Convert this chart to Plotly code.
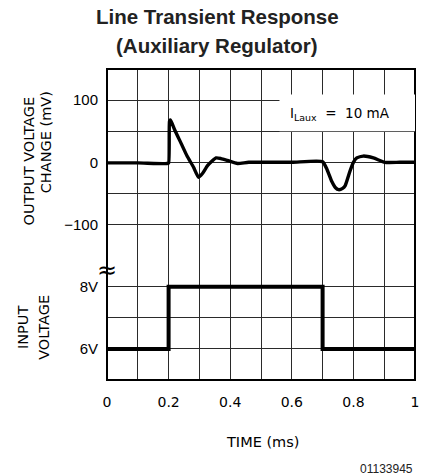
import plotly.graph_objects as go

# output voltage change (mV) vs time (ms)
t_out = [0, 0.1, 0.195, 0.2, 0.203, 0.206, 0.22, 0.241, 0.26, 0.281, 0.297, 0.31,
         0.327, 0.354, 0.37, 0.391, 0.424, 0.46, 0.6, 0.7, 0.714, 0.73, 0.742,
         0.752, 0.765, 0.773, 0.789, 0.8, 0.811, 0.832, 0.865, 0.902, 0.95, 1.0]
v_out = [-1, -1, -2, -1, 66, 68, 52, 30, 10, -8, -24, -18,
         -5, 7, 6, 3, -2, 0, 0, 1, -11, -31, -41,
         -44, -42, -38, -14, 0, 7, 10, 7, 0, 0, 0]

# input voltage step (V)
t_in = [0, 0.2, 0.7, 1.0]
v_in = [6, 8, 6, 6]

x_ticks = [i / 10 for i in range(11)]
x_labels = ["0", "", "0.2", "", "0.4", "", "0.6", "", "0.8", "", "1"]
mv_ticks = [-150, -100, -50, 0, 50, 100, 150]
mv_labels = ["", "\u2212100", "", "0", "", "100", ""]
vin_ticks = [5, 6, 7, 8, 9]
vin_labels = ["", "6V", "", "8V", ""]

W, H = 424, 475
L, R, T, B = 107, 5, 69, 95
PW, PH = W - L - R, H - T - B


def px(x):
    return (x - L) / PW


def py(y):
    return (H - B - y) / PH


fig = go.Figure()
fig.add_trace(go.Scatter(x=t_out, y=v_out, mode="lines", yaxis="y",
                         line=dict(color="black", width=3.4, shape="spline", smoothing=0.5)))
fig.add_trace(go.Scatter(x=t_in, y=v_in, mode="lines", yaxis="y2", line_shape="hv",
                         line=dict(color="black", width=4)))

grid = dict(showgrid=True, gridcolor="#2a2a2a", gridwidth=1.3, zeroline=False,
            showline=False, ticks="")
tfont = dict(family="Liberation Sans, Arial", size=15, color="black")

fig.update_layout(
    width=W, height=H,
    margin=dict(l=L, r=R, t=T, b=B),
    plot_bgcolor="white", paper_bgcolor="white",
    showlegend=False,
    xaxis=dict(range=[0, 1], tickvals=x_ticks, ticktext=x_labels, anchor="y2",
               tickfont=dict(family="DejaVu Sans", size=14, color="black"),
               ticklabelstandoff=12, **grid),
    yaxis=dict(range=[-150, 150], domain=[0.4, 1], tickvals=mv_ticks,
               ticktext=mv_labels, tickfont=tfont, ticklabelstandoff=8, **grid),
    yaxis2=dict(range=[5, 9], domain=[0, 0.4], tickvals=vin_ticks,
                ticktext=vin_labels, tickfont=tfont, ticklabelstandoff=8, **grid),
)

# plot border
fig.add_shape(type="rect", xref="paper", yref="paper", x0=0, x1=1, y0=0, y1=1,
              line=dict(color="black", width=2), layer="above")
# white label box
fig.add_shape(type="rect", xref="x", yref="y", x0=0.56, x1=1.0, y0=50, y1=109,
              fillcolor="white", line=dict(width=0), layer="above")

lab = dict(family="DejaVu Sans", size=14.5, color="black")
title_font = dict(family="Liberation Sans, Arial", size=20.5, color="#222")
ann = [
    dict(text="<b>Line Transient Response</b>", x=px(219), y=py(17), font=title_font),
    dict(text="<b>(Auxiliary Regulator)</b>", x=px(218), y=py(45), font=title_font),
    dict(text="OUTPUT VOLTAGE", x=px(27), y=py(161.5), textangle=-90, font=lab),
    dict(text="CHANGE (mV)", x=px(45), y=py(142.5), textangle=-90, font=lab),
    dict(text="INPUT", x=px(22), y=py(328), textangle=-90, font=lab),
    dict(text="VOLTAGE", x=px(43), y=py(327), textangle=-90, font=lab),
    dict(text="TIME (ms)", x=px(265), y=py(442), font=lab),
    dict(text="01133945", x=px(419), y=py(469), xanchor="right",
         font=dict(family="Liberation Sans, Arial", size=12, color="#222")),
    dict(text="\u2248", x=px(107), y=py(270),
         font=dict(family="DejaVu Sans", size=24, color="black")),
    dict(text="I<sub>Laux</sub>  =  10 mA", x=px(290), y=py(114), xanchor="left",
         font=dict(family="DejaVu Sans", size=13.5, color="black")),
]
for a in ann:
    a.setdefault("xanchor", "center")
    fig.add_annotation(xref="paper", yref="paper", yanchor="middle", showarrow=False, **a)

fig.write_html("out.html", config={"displayModeBar": False},
               post_script="document.body.style.margin='0';")
